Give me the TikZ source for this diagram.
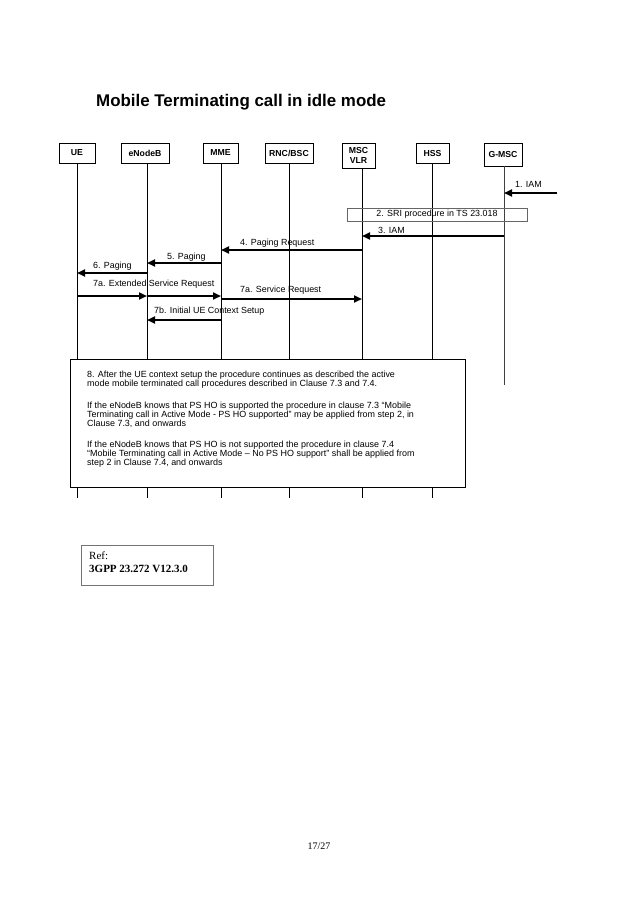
\documentclass[tikz,border=0pt]{standalone}
\usepackage{fontspec}
\setmainfont{Liberation Serif}
\setsansfont{Liberation Sans}
\usetikzlibrary{arrows.meta}
\begin{document}
\begin{tikzpicture}[x=1pt,y=-1pt,
  hdr/.style={draw,line width=0.8pt,inner sep=0pt,font=\sffamily\bfseries\fontsize{8.7}{9.5}\selectfont,align=center},
  life/.style={line width=0.8pt},
  msg/.style={line width=1.9pt,-{Triangle[length=8pt,width=7pt]}},
  lbl/.style={inner sep=0pt,anchor=west,font=\sffamily\fontsize{8.9}{9.5}\selectfont},
  ntxt/.style={inner sep=0pt,anchor=base west,font=\sffamily\fontsize{8.95}{9.5}\selectfont}]
\useasboundingbox (0,0) rectangle (638,903);
\fill[white] (0,0) rectangle (638,903);

% title
\node[inner sep=0pt,anchor=west,font=\sffamily\bfseries\fontsize{16.9}{20}\selectfont] (title) at (96,102.5) {Mobile Terminating call in idle mode};

% headers
\node[hdr,minimum width=36pt,minimum height=20pt] (ue) at (77,153) {UE};
\node[hdr,minimum width=48pt,minimum height=20pt] (enb) at (145,153) {eNodeB};
\node[hdr,minimum width=35pt,minimum height=20pt] (mme) at (220.5,153) {MME};
\node[hdr,minimum width=48pt,minimum height=20pt] (rnc) at (289,153) {RNC/BSC};
\node[hdr,minimum width=33pt,minimum height=25pt] (msc) at (358.5,155.5) {MSC\\VLR};
\node[hdr,minimum width=33pt,minimum height=20pt] (hss) at (432.5,153) {HSS};
\node[hdr,minimum width=38pt,minimum height=23pt] (gmsc) at (503,154.5) {G-MSC};

% lifelines
\coordinate (ueT) at (77,163);   \coordinate (ueB) at (77,498);
\coordinate (enbT) at (147,163); \coordinate (enbB) at (147,498);
\coordinate (mmeT) at (221,163); \coordinate (mmeB) at (221,498);
\coordinate (rncT) at (289,163); \coordinate (rncB) at (289,498);
\coordinate (mscT) at (362,168); \coordinate (mscB) at (362,498);
\coordinate (hssT) at (432,163); \coordinate (hssB) at (432,498);
\coordinate (gmscT) at (504,166); \coordinate (gmscB) at (504,385);
\draw[life] (ueT) -- (ueB);
\draw[life] (enbT) -- (enbB);
\draw[life] (mmeT) -- (mmeB);
\draw[life] (rncT) -- (rncB);
\draw[life] (mscT) -- (mscB);
\draw[life] (hssT) -- (hssB);
\draw[life,draw=black!75] (gmscT) -- (gmscB);

% 1. IAM
\coordinate (m1s) at (557,193); \coordinate (m1e) at (504,193);
\draw[msg] (m1s) -- (m1e);
\node[lbl] (l1) at (515,184) {1. IAM};

% 2. SRI
\node[draw=black!60,line width=0.8pt,minimum width=180pt,minimum height=13pt,inner sep=0pt,font=\sffamily\fontsize{8.9}{9.5}\selectfont] (sri) at (437,214.5) {2. SRI procedure in TS 23.018};

% 3. IAM
\coordinate (m3s) at (504,236); \coordinate (m3e) at (362,236);
\draw[msg] (m3s) -- (m3e);
\node[lbl] (l3) at (378,230) {3. IAM};

% 4
\coordinate (m4s) at (362,250); \coordinate (m4e) at (221,250);
\draw[msg] (m4s) -- (m4e);
\node[lbl] (l4) at (240,243) {4. Paging Request};

% 5
\coordinate (m5s) at (221,263); \coordinate (m5e) at (147,263);
\draw[msg] (m5s) -- (m5e);
\node[lbl] (l5) at (167,257) {5. Paging};

% 6
\coordinate (m6s) at (147,273); \coordinate (m6e) at (77,273);
\draw[msg] (m6s) -- (m6e);
\node[lbl] (l6) at (93,266) {6. Paging};

% 7a ext
\coordinate (m7s) at (77,296); \coordinate (m7m) at (147,296); \coordinate (m7e) at (221,296);
\draw[msg] (m7s) -- (m7m);
\draw[msg] (m7m) -- (m7e);
\node[lbl] (l7) at (93,284) {7a. Extended Service Request};

% 7a service
\coordinate (m8s) at (221,299); \coordinate (m8e) at (362,299);
\draw[msg] (m8s) -- (m8e);
\node[lbl] (l8) at (240,290) {7a. Service Request};

% 7b
\coordinate (m9s) at (221,320); \coordinate (m9e) at (147,320);
\draw[msg] (m9s) -- (m9e);
\node[lbl] (l9) at (154,311) {7b. Initial UE Context Setup};

% note box
\node[draw,line width=0.8pt,fill=white,minimum width=395pt,minimum height=128pt,inner sep=0pt] (note) at (267.5,423) {};
\node[ntxt] (n1) at (87,377.5) {8. After the UE context setup the procedure continues as described the active};
\node[ntxt] (n2) at (87,386.3) {mode mobile terminated call procedures described in Clause 7.3 and 7.4.};
\node[ntxt] (n3) at (87,408.5) {If the eNodeB knows that PS HO is supported the procedure in clause 7.3 “Mobile};
\node[ntxt] (n4) at (87,417.3) {Terminating call in Active Mode - PS HO supported” may be applied from step 2, in};
\node[ntxt] (n5) at (87,426.1) {Clause 7.3, and onwards};
\node[ntxt] (n6) at (87,447.5) {If the eNodeB knows that PS HO is not supported the procedure in clause 7.4};
\node[ntxt] (n7) at (87,456.3) {“Mobile Terminating call in Active Mode – No PS HO support” shall be applied from};
\node[ntxt] (n8) at (87,465.1) {step 2 in Clause 7.4, and onwards};

% ref box
\node[draw=black!55,line width=0.8pt,minimum width=132pt,minimum height=40pt,inner sep=0pt] (ref) at (147,565) {};
\node[inner sep=0pt,anchor=west,font=\fontsize{11}{13}\selectfont] (ref1) at (89,556) {Ref:};
\node[inner sep=0pt,anchor=west,font=\bfseries\fontsize{11}{13}\selectfont] (ref2) at (89,569) {3GPP 23.272 V12.3.0};

% page number
\node[inner sep=0pt,font=\fontsize{10}{12}\selectfont] (pg) at (319,846) {17/27};
\end{tikzpicture}
\end{document}
